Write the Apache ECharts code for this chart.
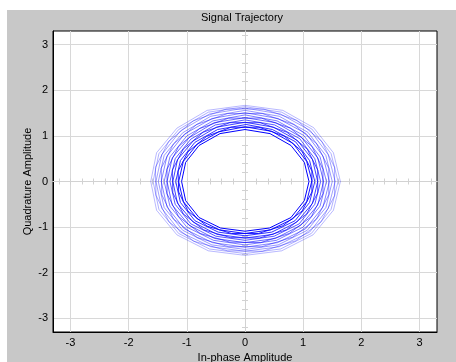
<!DOCTYPE html>
<html>
<head>
<meta charset="utf-8">
<script src="https://cdn.jsdelivr.net/npm/echarts@6/dist/echarts.min.js"></script>
<style>
  html, body { margin: 0; padding: 0; background: #fff; }
  #wrap { position: relative; width: 456px; height: 362px; }
  #panel { position: absolute; left: 7px; top: 10px; width: 449px; height: 352px; background: #c8c8c8; }
  #chart { position: absolute; left: 0; top: 0; width: 456px; height: 362px; }
</style>
</head>
<body>
<div id="wrap"><div id="panel"></div><div id="chart"></div></div>
<script>
// axis labels
var axisTicks = [-3, -2, -1, 0, 1, 2, 3];
var minorTicks = [-3.2, -3, -2.8, -2.6, -2.4, -2.2, -2, -1.8, -1.6, -1.4, -1.2, -1, -0.8, -0.6, -0.4, -0.2,
  0, 0.2, 0.4, 0.6, 0.8, 1, 1.2, 1.4, 1.6, 1.8, 2, 2.2, 2.4, 2.6, 2.8, 3, 3.2];

// trajectory, one revolution per array (inner -> outer)
var ring01 = [[1.10,0],[1.02,0.42],[0.79,0.79],[0.43,1.05],[0,1.14],[-0.43,1.05],[-0.79,0.79],[-1.02,0.42],[-1.09,0],[-1.02,-0.42],[-0.79,-0.79],[-0.42,-1.02],[0,-1.09],[0.42,-1.02],[0.79,-0.79],[1.02,-0.42],[1.10,0]];
var ring02 = [[1.15,0.02],[1.06,0.44],[0.83,0.83],[0.46,1.10],[0,1.20],[-0.45,1.09],[-0.82,0.82],[-1.06,0.44],[-1.14,0],[-1.06,-0.44],[-0.82,-0.82],[-0.44,-1.06],[0,-1.14],[0.44,-1.06],[0.82,-0.82],[1.06,-0.44],[1.15,0.02]];
var ring03 = [[1.15,0.23],[0.98,0.66],[0.67,1.00],[0.24,1.19],[-0.24,1.19],[-0.66,0.99],[-0.98,0.65],[-1.15,0.23],[-1.14,-0.23],[-0.98,-0.65],[-0.65,-0.98],[-0.23,-1.14],[0.23,-1.14],[0.65,-0.97],[0.98,-0.65],[1.15,-0.23],[1.15,0.23]];
var ring04 = [[1.20,0],[1.11,0.46],[0.87,0.87],[0.47,1.14],[0.02,1.25],[-0.47,1.14],[-0.86,0.86],[-1.11,0.46],[-1.19,0],[-1.11,-0.46],[-0.86,-0.86],[-0.46,-1.11],[0,-1.19],[0.46,-1.11],[0.86,-0.86],[1.11,-0.46],[1.20,0]];
var ring05 = [[1.25,0],[1.16,0.48],[0.90,0.90],[0.49,1.19],[0,1.30],[-0.49,1.19],[-0.89,0.89],[-1.16,0.48],[-1.24,0],[-1.16,-0.48],[-0.89,-0.89],[-0.48,-1.16],[0,-1.24],[0.48,-1.16],[0.89,-0.89],[1.16,-0.48],[1.25,0]];
var ring06 = [[1.25,0.25],[1.07,0.71],[0.72,1.08],[0.26,1.29],[-0.26,1.29],[-0.72,1.08],[-1.06,0.71],[-1.25,0.25],[-1.24,-0.25],[-1.06,-0.71],[-0.71,-1.06],[-0.25,-1.23],[0.25,-1.24],[0.71,-1.06],[1.06,-0.71],[1.25,-0.25],[1.25,0.25]];
var ring07 = [[1.30,0],[1.20,0.50],[0.94,0.94],[0.51,1.24],[0,1.35],[-0.51,1.24],[-0.93,0.93],[-1.20,0.50],[-1.29,0],[-1.20,-0.50],[-0.93,-0.93],[-0.50,-1.20],[0,-1.29],[0.50,-1.20],[0.93,-0.93],[1.20,-0.50],[1.30,0]];
var ring08 = [[1.35,0],[1.25,0.52],[0.97,0.97],[0.53,1.29],[0,1.40],[-0.53,1.29],[-0.96,0.96],[-1.25,0.52],[-1.34,0],[-1.25,-0.52],[-0.96,-0.96],[-0.52,-1.25],[0,-1.34],[0.52,-1.25],[0.96,-0.96],[1.25,-0.52],[1.35,0]];
var ring09 = [[1.34,0.27],[1.15,0.77],[0.78,1.17],[0.28,1.39],[-0.28,1.39],[-0.78,1.16],[-1.14,0.77],[-1.34,0.27],[-1.34,-0.27],[-1.14,-0.77],[-0.77,-1.14],[-0.26,-1.33],[0.27,-1.34],[0.76,-1.14],[1.14,-0.77],[1.34,-0.27],[1.34,0.27]];
var ring10 = [[1.40,0],[1.29,0.54],[1.01,1.01],[0.55,1.33],[0,1.46],[-0.55,1.33],[-1.00,1.00],[-1.29,0.54],[-1.39,0],[-1.29,-0.54],[-1.00,-1.00],[-0.54,-1.29],[0,-1.39],[0.54,-1.29],[1.00,-1.00],[1.29,-0.54],[1.40,0]];
var ring11 = [[1.45,0],[1.34,0.56],[1.05,1.05],[0.57,1.38],[0,1.51],[-0.57,1.38],[-1.04,1.04],[-1.34,0.56],[-1.44,0],[-1.34,-0.56],[-1.04,-1.04],[-0.56,-1.34],[0,-1.44],[0.56,-1.34],[1.04,-1.04],[1.34,-0.56],[1.45,0]];
var ring12 = [[1.44,0.29],[1.23,0.83],[0.84,1.25],[0.30,1.49],[-0.30,1.49],[-0.83,1.25],[-1.23,0.82],[-1.44,0.29],[-1.43,-0.29],[-1.23,-0.82],[-0.82,-1.23],[-0.28,-1.43],[0.29,-1.43],[0.82,-1.22],[1.23,-0.82],[1.44,-0.29],[1.44,0.29]];
var ring13 = [[1.50,0],[1.39,0.57],[1.08,1.08],[0.59,1.43],[0,1.56],[-0.59,1.43],[-1.07,1.07],[-1.39,0.57],[-1.49,0],[-1.39,-0.57],[-1.07,-1.07],[-0.57,-1.39],[0,-1.49],[0.57,-1.39],[1.07,-1.07],[1.39,-0.57],[1.50,0]];
var ring14 = [[1.55,0],[1.43,0.59],[1.12,1.12],[0.61,1.48],[0,1.61],[-0.61,1.48],[-1.11,1.11],[-1.43,0.59],[-1.53,0],[-1.43,-0.59],[-1.11,-1.11],[-0.59,-1.43],[0,-1.53],[0.59,-1.43],[1.11,-1.11],[1.43,-0.59],[1.55,0]];
var ring15 = [[1.54,0.31],[1.32,0.88],[0.89,1.34],[0.32,1.59],[-0.32,1.59],[-0.89,1.33],[-1.31,0.88],[-1.54,0.31],[-1.53,-0.30],[-1.31,-0.88],[-0.88,-1.31],[-0.30,-1.52],[0.30,-1.53],[0.87,-1.30],[1.31,-0.88],[1.54,-0.31],[1.54,0.31]];
var ring16 = [[1.60,0],[1.48,0.61],[1.15,1.15],[0.63,1.52],[0,1.64],[-0.63,1.52],[-1.14,1.14],[-1.48,0.61],[-1.58,0],[-1.48,-0.61],[-1.14,-1.14],[-0.61,-1.48],[0,-1.58],[0.61,-1.48],[1.14,-1.14],[1.48,-0.61],[1.60,0]];
var ring17 = [[1.64,0],[1.52,0.63],[1.18,1.18],[0.65,1.56],[0,1.67],[-0.65,1.56],[-1.17,1.17],[-1.52,0.63],[-1.62,0],[-1.52,-0.63],[-1.17,-1.17],[-0.63,-1.52],[0,-1.62],[0.63,-1.52],[1.17,-1.17],[1.52,-0.63],[1.64,0]];
var rings = [ring01, ring02, ring03, ring04, ring05, ring06, ring07, ring08, ring09,
  ring10, ring11, ring12, ring13, ring14, ring15, ring16, ring17];
var ringAlpha = [1, 0.92, 0.86, 0.8, 0.74, 0.69, 0.64, 0.59, 0.55, 0.51, 0.47, 0.43, 0.4, 0.37, 0.34, 0.31, 0.28];

var font = 'Liberation Sans, Arial, sans-serif';
var gridBox = { left: 53, top: 31, right: 19, bottom: 30, outerBoundsMode: 'none', containLabel: false };

// 3 grids on the same box: frame + labels, and two for the cross at zero (ticks on both sides)
function crossAxis(dim, grid, inside) {
  return {
    type: 'value', gridIndex: grid, min: -3.3, max: 3.3,
    position: dim == 'x' ? 'bottom' : 'left',
    axisLine: { show: true, onZero: true, lineStyle: { color: '#d2d2d2', width: 1 } },
    axisTick: { show: true, inside: inside, length: 3, customValues: minorTicks, lineStyle: { color: '#d2d2d2' } },
    axisLabel: { show: false },
    splitLine: { show: false }
  };
}

function mainAxis(dim) {
  return {
    type: 'value', gridIndex: 0, min: -3.3, max: 3.3,
    position: dim == 'x' ? 'bottom' : 'left',
    name: dim == 'x' ? 'In-phase Amplitude' : 'Quadrature Amplitude',
    nameLocation: 'middle',
    nameGap: dim == 'x' ? 20 : 20,
    nameMoveOverlap: false,
    nameTextStyle: { color: '#000', fontFamily: font, fontSize: 11 },
    axisLine: { show: true, onZero: false, lineStyle: { color: '#000', width: 1 } },
    axisTick: { show: false },
    axisLabel: { customValues: axisTicks, color: '#000', fontFamily: font, fontSize: 11, margin: 5 },
    splitLine: { show: true, showMinLine: false, showMaxLine: false, lineStyle: { color: '#d8d8d8', width: 1 } }
  };
}

var series = rings.map(function (r, i) {
  return {
    type: 'line', xAxisIndex: 0, yAxisIndex: 0,
    data: r, symbol: 'none', smooth: false,
    lineStyle: { color: '#0000ff', width: 1, opacity: ringAlpha[i] },
    z: 30 - i
  };
});

var chart = echarts.init(document.getElementById('chart'));
chart.setOption({
  animation: false,
  title: {
    text: 'Signal Trajectory', left: 201, top: 12, padding: 0,
    textStyle: { color: '#000', fontFamily: font, fontSize: 11, fontWeight: 'normal' }
  },
  grid: [
    Object.assign({ show: true, backgroundColor: '#fff', borderColor: '#000', borderWidth: 1 }, gridBox),
    Object.assign({}, gridBox),
    Object.assign({}, gridBox)
  ],
  xAxis: [mainAxis('x'), crossAxis('x', 1, true), crossAxis('x', 2, false)],
  yAxis: [mainAxis('y'), crossAxis('y', 1, true), crossAxis('y', 2, false)],
  series: series
});
</script>
</body>
</html>
